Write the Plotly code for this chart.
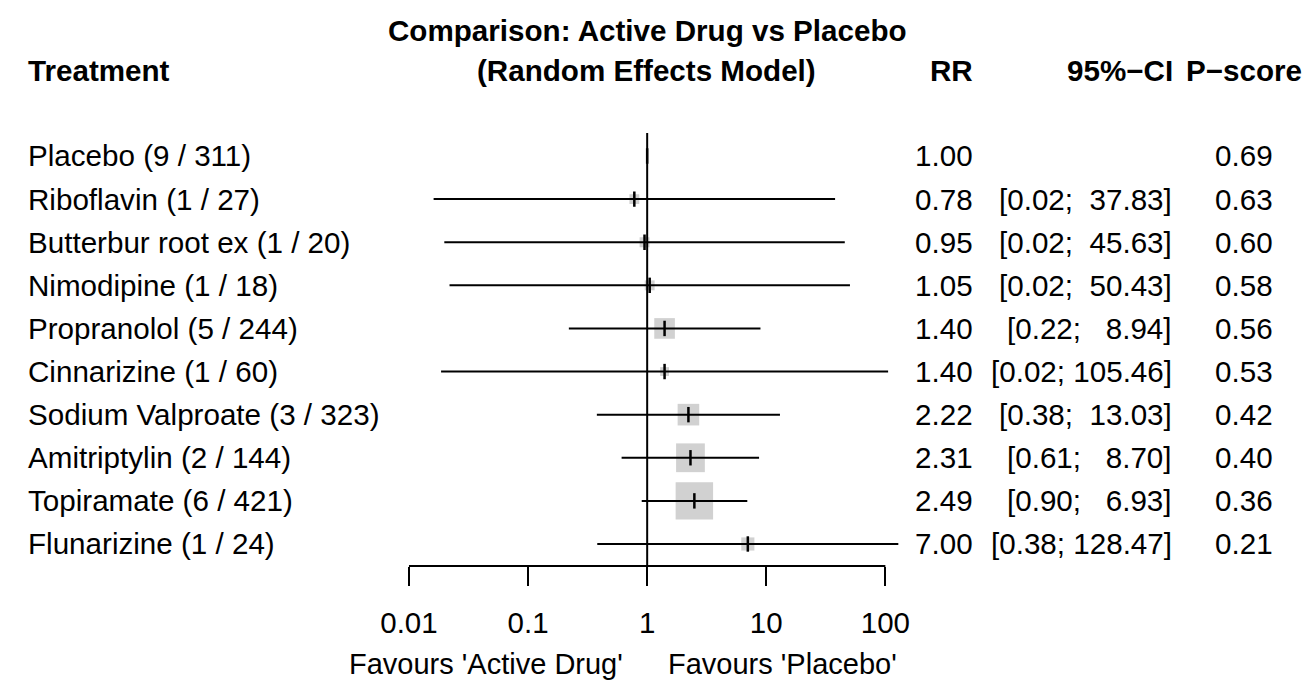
import plotly.graph_objects as go
import math

# ---------------- data ----------------
treatments = ["Placebo", "Riboflavin", "Butterbur root ex", "Nimodipine", "Propranolol",
              "Cinnarizine", "Sodium Valproate", "Amitriptylin", "Topiramate", "Flunarizine"]
n_studies = [9, 1, 1, 1, 5, 1, 3, 2, 6, 1]
n_patients = [311, 27, 20, 18, 244, 60, 323, 144, 421, 24]
rr = [1.00, 0.78, 0.95, 1.05, 1.40, 1.40, 2.22, 2.31, 2.49, 7.00]
ci_lower = [None, 0.0161, 0.0198, 0.0219, 0.22, 0.0186, 0.378, 0.61, 0.90, 0.381]
ci_upper = [None, 37.83, 45.63, 50.43, 8.94, 105.46, 13.03, 8.70, 6.93, 128.47]
pscore = [0.69, 0.63, 0.60, 0.58, 0.56, 0.53, 0.42, 0.40, 0.36, 0.21]
tick_vals = [0.01, 0.1, 1, 10, 100]
tick_text = ["0.01", "0.1", "1", "10", "100"]

# ---------------- layout constants ----------------
W, H = 1315, 681
FONT = "Liberation Sans, Arial, Helvetica, sans-serif"
FS = 29.6
FS_AX = 29.5
NB = "\u00a0"

def px(x):
    return x / W

def py(y):
    return 1 - y / H

rows = list(range(len(treatments)))

fig = go.Figure()

# squares (side ~ 1/SE, i.e. sqrt of inverse-variance weight)
sq_x, sq_y, sq_s = [], [], []
for i in rows:
    if ci_lower[i] is None:
        continue
    se = (math.log(ci_upper[i]) - math.log(ci_lower[i])) / (2 * 1.959964)
    sq_x.append(rr[i])
    sq_y.append(i)
    sq_s.append(19.5 / se)
fig.add_trace(go.Scatter(x=sq_x, y=sq_y, mode="markers",
                         marker=dict(symbol="square", size=sq_s, color="#BEBEBE",
                                     line=dict(width=0)),
                         hoverinfo="skip", showlegend=False))

# confidence interval lines
lx, ly = [], []
for i in rows:
    if ci_lower[i] is None:
        continue
    lx += [ci_lower[i], ci_upper[i], None]
    ly += [i, i, None]
fig.add_trace(go.Scatter(x=lx, y=ly, mode="lines",
                         line=dict(color="black", width=2),
                         hoverinfo="skip", showlegend=False))

# point estimate ticks
fig.add_trace(go.Scatter(x=rr, y=rows, mode="markers",
                         marker=dict(symbol="line-ns", size=11, color="black",
                                     line=dict(width=2.5, color="black")),
                         hoverinfo="skip", showlegend=False))

# reference line and axis line
fig.add_shape(type="line", xref="x", yref="y domain", x0=1, x1=1, y0=0, y1=1,
              line=dict(color="black", width=2))
fig.add_shape(type="line", xref="x", yref="y domain", x0=tick_vals[0], x1=tick_vals[-1],
              y0=0, y1=0, line=dict(color="black", width=2))

ann = []
def add_text(text, x, y, xanchor, yref="paper", bold=False, size=FS):
    ann.append(dict(text=("<b>%s</b>" % text) if bold else text,
                    x=x, y=y, xref="paper", yref=yref, xanchor=xanchor, yanchor="middle",
                    showarrow=False, borderpad=0,
                    font=dict(family=FONT, size=size, color="black")))

# headers
add_text("Comparison: Active Drug vs Placebo", px(645), py(30), "center", bold=True)
add_text("(Random Effects Model)", px(644), py(70), "center", bold=True)
add_text("Treatment", px(16), py(70), "left", bold=True)
add_text("RR", px(976), py(70), "right", bold=True)
add_text("95%\u2212CI", px(1179), py(70), "right", bold=True)
add_text("P\u2212score", px(1310), py(70), "right", bold=True)

# rows
for i in rows:
    add_text("%s (%d / %d)" % (treatments[i], n_studies[i], n_patients[i]), px(16), i, "left", yref="y")
    add_text("%.2f" % rr[i], px(976), i, "right", yref="y")
    if ci_lower[i] is not None:
        ci = "[%.2f; %6.2f]" % (ci_lower[i], ci_upper[i])
        add_text(ci.replace(" ", NB), px(1178), i, "right", yref="y")
    add_text("%.2f" % pscore[i], px(1281), i, "right", yref="y")

# favours labels
add_text("Favours 'Active Drug'", px(622), py(664), "right", size=29)
add_text("Favours 'Placebo'", px(665), py(664), "left", size=29)

dec = 120.75
x0 = 645
xr = 2.15
row0, rsp = 156, 43.11
ytop, ybot = 133, 566

fig.update_layout(
    width=W, height=H,
    margin=dict(l=0, r=0, t=0, b=0),
    paper_bgcolor="white", plot_bgcolor="white",
    annotations=ann,
    font=dict(family=FONT, size=FS, color="black"),
    xaxis=dict(type="log", range=[-xr, xr],
               domain=[(x0 - xr * dec) / W, (x0 + xr * dec) / W],
               tickvals=tick_vals, ticktext=tick_text,
               ticks="outside", ticklen=19, tickwidth=2, tickcolor="black",
               showline=False, showgrid=False, zeroline=False,
               tickfont=dict(family=FONT, size=FS_AX, color="black"),
               ticklabelstandoff=12),
    yaxis=dict(range=[(ybot - row0) / rsp, (ytop - row0) / rsp],
               domain=[1 - ybot / H, 1 - ytop / H],
               visible=False, showgrid=False, zeroline=False),
)

fig.write_html("out.html", config={"displayModeBar": False},
               post_script="document.body.style.margin='0';document.body.style.overflow='hidden';")
